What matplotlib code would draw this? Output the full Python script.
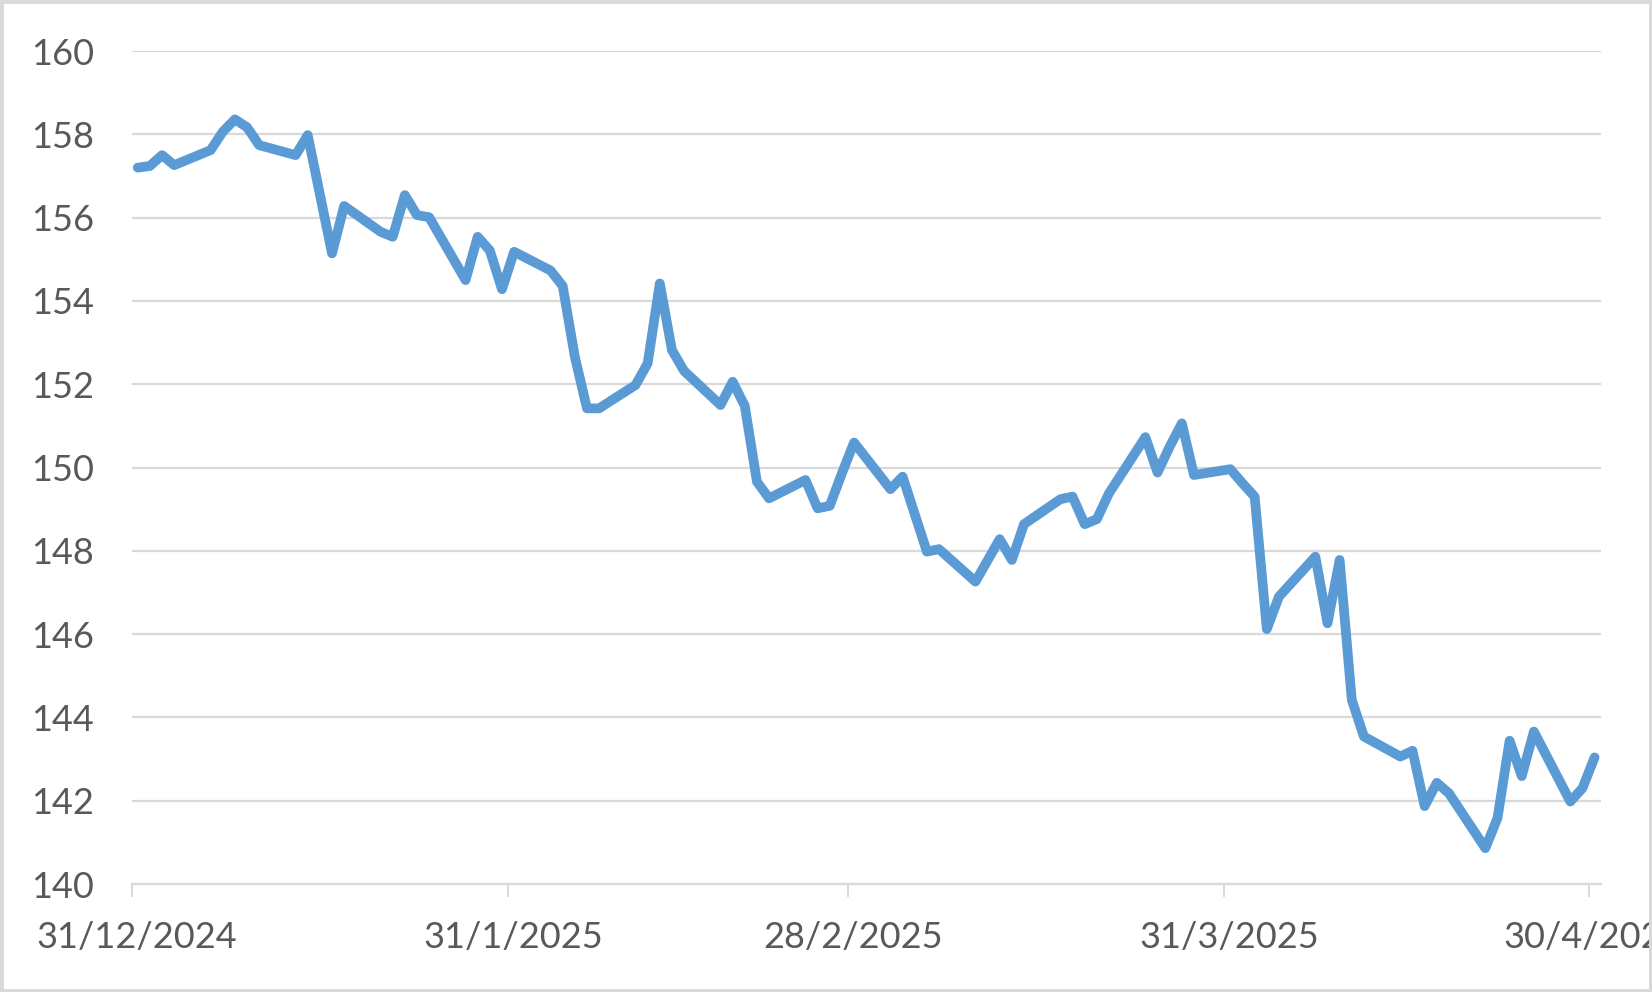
import matplotlib
matplotlib.use("Agg")
import matplotlib.pyplot as plt
import matplotlib.dates as mdates
import matplotlib.transforms as mtransforms
import pandas as pd
from matplotlib.patches import Rectangle

# ---- data ----
start_date = "2024-12-31"
end_date = "2025-04-30"
values = [
    157.20,
    # Jan
    157.24, 157.50, 157.26, 157.62, 158.06, 158.36, 158.17, 157.74,
    157.50, 157.98, 156.56, 155.14, 156.28, 155.66, 155.54, 156.54,
    156.06, 156.01, 154.50, 155.54, 155.21, 154.28, 155.18,
    # Feb
    154.73, 154.36, 152.66, 151.42, 151.42, 151.98, 152.50, 154.42,
    152.82, 152.32, 151.50, 152.06, 151.48, 149.66, 149.26, 149.70,
    149.02, 149.08, 149.86, 150.60,
    # Mar
    149.48, 149.78, 148.88, 147.98, 148.04, 147.26, 147.77, 148.28,
    147.78, 148.64, 149.24, 149.30, 148.64, 148.76, 149.38, 150.73,
    149.88, 150.50, 151.06, 149.82, 149.96,
    # Apr
    149.62, 149.30, 146.12, 146.90, 147.86, 146.26, 147.78, 144.42,
    143.54, 143.06, 143.20, 141.87, 142.43, 142.18, 140.86, 141.58,
    143.44, 142.59, 143.66, 141.98, 142.30, 143.04,
]
tick_dates = ["2024-12-31", "2025-01-31", "2025-02-28", "2025-03-31", "2025-04-30"]
tick_labels = ["31/12/2024", "31/1/2025", "28/2/2025", "31/3/2025", "30/4/2025"]
y_ticks = [140, 142, 144, 146, 148, 150, 152, 154, 156, 158, 160]

dates = pd.bdate_range(start_date, end_date)
assert len(dates) == len(values)

# ---- figure ----
fig = plt.figure(figsize=(16.52, 9.92), dpi=100)
fig.patch.set_facecolor("white")
ax = fig.add_axes([0.07972, 0.10887, 0.8892, 0.8397])

x = mdates.date2num(dates.to_pydatetime()) + 0.5
ax.plot(x, values, color="#5B9BD5", lw=7.0, solid_capstyle="round",
        solid_joinstyle="round", zorder=3)

ax.set_xlim(mdates.date2num(pd.Timestamp("2024-12-31").to_pydatetime()),
            mdates.date2num(pd.Timestamp("2025-05-01").to_pydatetime()))
ax.set_ylim(140, 160)

grid_c = "#D9D9D9"
text_c = "#595959"
font = ["Lato", "DejaVu Sans"]

ax.set_yticks(y_ticks)
ax.set_yticklabels([str(v) for v in y_ticks], family=font, fontsize=26, color=text_c)
ax.set_xticks(mdates.date2num([pd.Timestamp(d).to_pydatetime() for d in tick_dates]))
ax.set_xticklabels(tick_labels, family=font, fontsize=26, color=text_c)

ax.yaxis.grid(True, color=grid_c, lw=1.6, zorder=0)
ax.set_axisbelow(True)
for s in ["top", "right", "left"]:
    ax.spines[s].set_visible(False)
ax.spines["bottom"].set_color(grid_c)
ax.spines["bottom"].set_linewidth(1.6)

ax.tick_params(axis="y", length=0, pad=27)
ax.tick_params(axis="x", length=9.5, width=1.4, color=grid_c, direction="out", pad=17)

# slight rightward nudge of the date labels, as in the reference
offset = mtransforms.ScaledTranslation(5 / 100, 0, fig.dpi_scale_trans)
for lbl in ax.get_xticklabels():
    lbl.set_transform(lbl.get_transform() + offset)

# chart border
fig.add_artist(Rectangle((0, 0), 1, 1, transform=fig.transFigure, fill=False,
                         edgecolor=grid_c, lw=5))

fig.savefig("out.png", dpi=100, facecolor="white")
